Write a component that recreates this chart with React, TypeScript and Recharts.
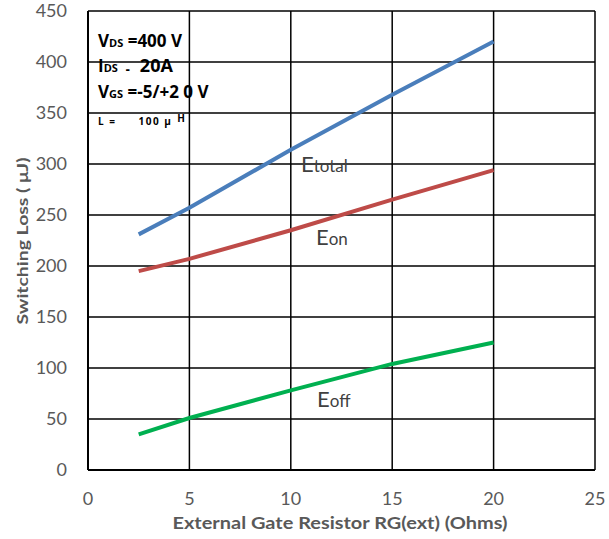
import React from "react";
import { LineChart, Line, XAxis, YAxis, CartesianGrid } from "recharts";

// gate resistance (ohms) and switching energies (uJ)
const rg = [2.5, 5, 10, 15, 20];
const eTotal = [231, 257, 314, 368, 420];
const eOn = [195, 207, 235, 265, 294];
const eOff = [35, 51, 78, 104, 125];

const xTicks = [0, 5, 10, 15, 20, 25];
const yTicks = [0, 50, 100, 150, 200, 250, 300, 350, 400, 450];

const data = rg.map((r, i) => ({
  rg: r,
  total: eTotal[i],
  on: eOn[i],
  off: eOff[i],
}));

const tickFont = { fontSize: 18, fill: "#595959", fontFamily: "Lato" };
const labelFont = "Lato, 'Open Sans', sans-serif";

export default function App() {
  return (
    <div
      style={{
        position: "absolute",
        left: 0,
        top: 0,
        width: 609,
        height: 539,
        background: "#fff",
      }}
    >
      <LineChart
        width={609}
        height={539}
        data={data}
        margin={{ top: 11, right: 14, bottom: 0, left: 0 }}
      >
        <CartesianGrid stroke="#000" strokeWidth={1.5} />
        <XAxis
          dataKey="rg"
          type="number"
          domain={[0, 25]}
          ticks={xTicks}
          height={69}
          tickSize={0}
          tickMargin={22}
          tick={tickFont}
          axisLine={{ stroke: "#000", strokeWidth: 2 }}
        />
        <YAxis
          type="number"
          domain={[0, 450]}
          ticks={yTicks}
          width={88}
          tickSize={0}
          tickMargin={21}
          tick={tickFont}
          axisLine={{ stroke: "#000", strokeWidth: 2 }}
        />
        <Line dataKey="total" stroke="#4a7ebb" strokeWidth={4} dot={false} isAnimationActive={false} />
        <Line dataKey="on" stroke="#be4b48" strokeWidth={4} dot={false} isAnimationActive={false} />
        <Line dataKey="off" stroke="#00b050" strokeWidth={4} dot={false} isAnimationActive={false} />
      </LineChart>

      <svg
        width={609}
        height={539}
        style={{ position: "absolute", left: 0, top: 0, pointerEvents: "none" }}
      >
        <text
          x={21}
          y={241}
          transform="rotate(-90 21 241)"
          textAnchor="middle"
          dominantBaseline="central"
          fontFamily={labelFont}
          fontWeight="bold"
          fontSize={16}
          textLength={167}
          lengthAdjust="spacingAndGlyphs"
          fill="#595959"
        >
          Switching Loss ( μJ)
        </text>
        <text
          x={340}
          y={529}
          textAnchor="middle"
          fontFamily={labelFont}
          fontWeight="bold"
          fontSize={17.5}
          textLength={335}
          lengthAdjust="spacingAndGlyphs"
          fill="#595959"
        >
          External Gate Resistor RG(ext) (Ohms)
        </text>

        <g fontFamily={labelFont} fill="#404040">
          <text x={301} y={172} fontSize={22}>
            E<tspan fontSize={17}>total</tspan>
          </text>
          <text x={316} y={245} fontSize={22}>
            E<tspan fontSize={17}>on</tspan>
          </text>
          <text x={317} y={407} fontSize={22}>
            E<tspan fontSize={17}>off</tspan>
          </text>
        </g>

        <g fontFamily="'Open Sans', sans-serif" fontWeight="bold" fill="#000">
          <text x={98} y={47} fontSize={17}>
            V<tspan fontSize={11}>DS</tspan> =400 V
          </text>
          <text x={98} y={72} fontSize={17}>
            I<tspan fontSize={11}>DS</tspan>
            <tspan fontSize={7} dx={8}>=</tspan>
            <tspan fontSize={18} dx={10}>20A</tspan>
          </text>
          <text x={98} y={98} fontSize={17}>
            V<tspan fontSize={11}>GS</tspan> =-5/+2 0 V
          </text>
          <text x={98} y={125} fontSize={10} letterSpacing={1.5}>
            L =
            <tspan dx={22}>100 μ</tspan>
            <tspan dx={5} dy={-3}>H</tspan>
          </text>
        </g>
      </svg>
    </div>
  );
}
